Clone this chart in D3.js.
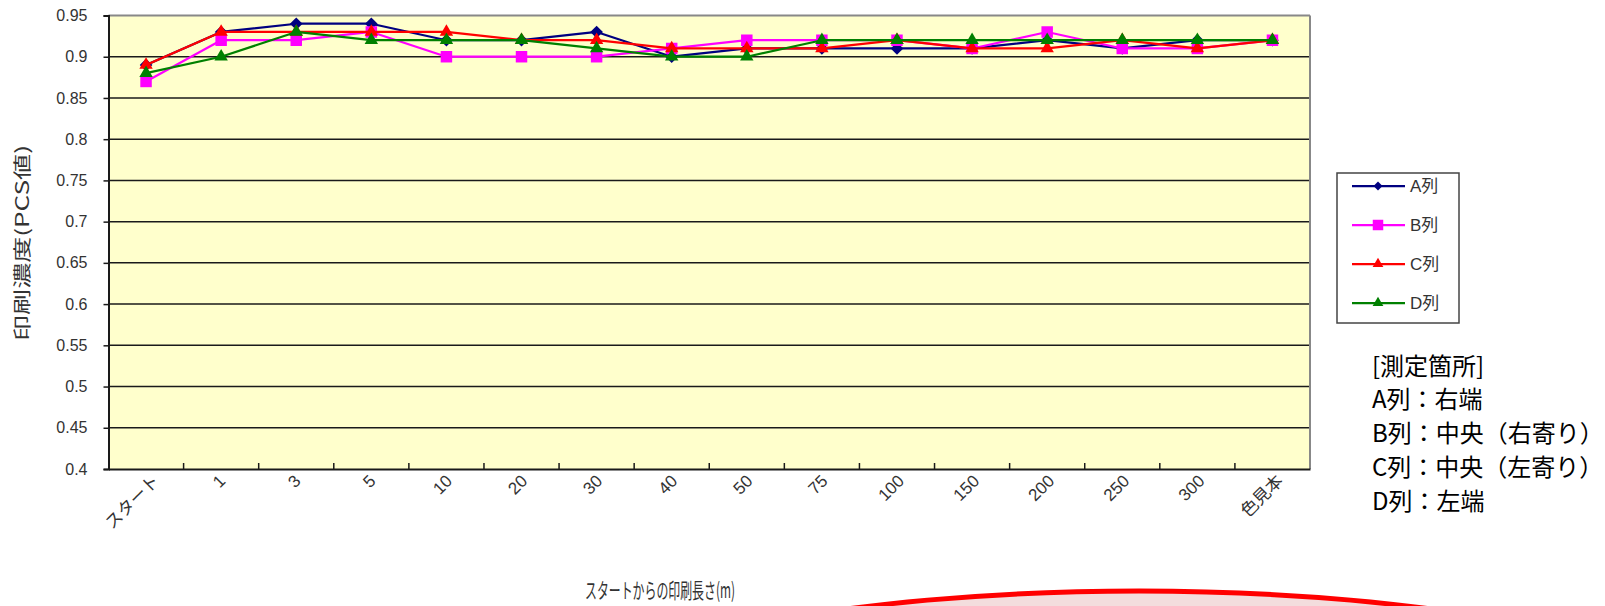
<!DOCTYPE html>
<html>
<head>
<meta charset="utf-8">
<script src="https://cdn.jsdelivr.net/npm/d3@7/dist/d3.min.js"></script>
<style>
  html, body { margin: 0; padding: 0; background: #ffffff; }
  svg { display: block; }
  text { font-family: "Liberation Sans", "Noto Sans CJK JP", sans-serif; }
</style>
</head>
<body>
<script>
// Print length from start (m) along the x axis
const categories = ["スタート", "1", "3", "5", "10", "20", "30", "40", "50", "75", "100", "150", "200", "250", "300", "色見本"];

// Print density (PCS) per measuring column
const seriesNames = ["A列", "B列", "C列", "D列"];
const valuesA = [0.89, 0.93, 0.94, 0.94, 0.92, 0.92, 0.93, 0.90, 0.91, 0.91, 0.91, 0.91, 0.92, 0.91, 0.92, 0.92];
const valuesB = [0.87, 0.92, 0.92, 0.93, 0.90, 0.90, 0.90, 0.91, 0.92, 0.92, 0.92, 0.91, 0.93, 0.91, 0.91, 0.92];
const valuesC = [0.89, 0.93, 0.93, 0.93, 0.93, 0.92, 0.92, 0.91, 0.91, 0.91, 0.92, 0.91, 0.91, 0.92, 0.91, 0.92];
const valuesD = [0.88, 0.90, 0.93, 0.92, 0.92, 0.92, 0.91, 0.90, 0.90, 0.92, 0.92, 0.92, 0.92, 0.92, 0.92, 0.92];

const yTicks = [0.4, 0.45, 0.5, 0.55, 0.6, 0.65, 0.7, 0.75, 0.8, 0.85, 0.9, 0.95];
const yTickLabels = ["0.4", "0.45", "0.5", "0.55", "0.6", "0.65", "0.7", "0.75", "0.8", "0.85", "0.9", "0.95"];

const xTitle = "スタートからの印刷長さ(m)";
const yTitle = "印刷濃度(PCS値)";
const notes = ["[測定箇所]", "A列：右端", "B列：中央（右寄り）", "C列：中央（左寄り）", "D列：左端"];

const W = 1605, H = 606;
const plot = { left: 108.5, right: 1310, top: 15.5, bottom: 469 };

const styles = [
  { color: "#000080", shape: "diamond" },
  { color: "#FF00FF", shape: "square" },
  { color: "#FF0000", shape: "triangle" },
  { color: "#008000", shape: "triangle" }
];
const seriesValues = [valuesA, valuesB, valuesC, valuesD];

const svg = d3.select("body").append("svg").attr("width", W).attr("height", H);

const x = d3.scaleBand().domain(categories).range([plot.left, plot.right]).padding(0);
const y = d3.scaleLinear().domain([0.4, 0.95]).range([plot.bottom, plot.top]);
const cx = c => x(c) + x.bandwidth() / 2;

// plot background
svg.append("rect")
  .attr("x", plot.left).attr("y", plot.top)
  .attr("width", plot.right - plot.left).attr("height", plot.bottom - plot.top)
  .attr("fill", "#FFFFCC");

// horizontal gridlines
svg.append("g")
  .selectAll("line")
  .data(yTicks.filter(t => t > 0.4 && t < 0.95))
  .join("line")
  .attr("x1", plot.left).attr("x2", plot.right)
  .attr("y1", d => y(d)).attr("y2", d => y(d))
  .attr("stroke", "#1a1a1a").attr("stroke-width", 1.5);

// plot frame: grey top/right, dark left/bottom
svg.append("line").attr("x1", plot.left).attr("x2", plot.right)
  .attr("y1", plot.top).attr("y2", plot.top)
  .attr("stroke", "#888888").attr("stroke-width", 2);
svg.append("line").attr("x1", plot.right).attr("x2", plot.right)
  .attr("y1", plot.top).attr("y2", plot.bottom)
  .attr("stroke", "#888888").attr("stroke-width", 2);

// y axis
const yAxis = d3.axisLeft(y)
  .tickValues(yTicks)
  .tickFormat((d, i) => yTickLabels[i])
  .tickSize(5)
  .tickPadding(16);
const gy = svg.append("g").attr("transform", `translate(${plot.left},0)`).call(yAxis);
gy.select(".domain").attr("stroke", "#1a1a1a").attr("stroke-width", 2);
gy.selectAll(".tick line").attr("stroke", "#1a1a1a").attr("stroke-width", 1.5);
gy.selectAll(".tick text")
  .attr("font-size", 16).attr("fill", "#333333")
  .style("font-family", "'Liberation Sans', sans-serif");

// x axis: tilted labels ending just below each category, tick marks at band boundaries
const xAxis = d3.axisBottom(x).tickSize(0).tickPadding(0);
const gx = svg.append("g").attr("transform", `translate(0,${plot.bottom})`).call(xAxis);
gx.select(".domain").attr("stroke", "#1a1a1a").attr("stroke-width", 2);
gx.selectAll(".tick text")
  .attr("font-size", 17).attr("fill", "#333333")
  .attr("text-anchor", "end")
  .attr("y", 0)
  .attr("dy", null)
  .style("font-family", "'Liberation Sans', 'Noto Sans CJK JP', sans-serif")
  .each(function () {
    const len = this.getComputedTextLength();
    const dx = 4 + 0.15 * len;
    d3.select(this).attr("transform", `translate(${dx},13) rotate(-45)`);
  });

gx.append("g")
  .selectAll("line")
  .data(categories.slice(1))
  .join("line")
  .attr("x1", d => x(d)).attr("x2", d => x(d))
  .attr("y1", 0).attr("y2", -6)
  .attr("stroke", "#1a1a1a").attr("stroke-width", 1.5);

// marker shapes
function markerPath(shape, big) {
  if (shape === "diamond") return d3.symbol().type(d3.symbolSquare).size(big ? 80 : 40)();
  if (shape === "square") return d3.symbol().type(d3.symbolSquare).size(big ? 132 : 110)();
  return d3.symbol().type(d3.symbolTriangle).size(big ? 78 : 50)();
}
function markerTransform(shape, px, py) {
  return shape === "diamond"
    ? `translate(${px},${py}) rotate(45)`
    : `translate(${px},${py})`;
}

const line = d3.line().x(d => cx(d.c)).y(d => y(d.v));

seriesValues.forEach((vals, si) => {
  const st = styles[si];
  const pts = vals.map((v, i) => ({ c: categories[i], v }));
  const g = svg.append("g");
  g.append("path")
    .datum(pts)
    .attr("d", line)
    .attr("fill", "none")
    .attr("stroke", st.color)
    .attr("stroke-width", 2.25)
    .attr("stroke-linejoin", "round");
  g.selectAll("path.m")
    .data(pts)
    .join("path")
    .attr("class", "m")
    .attr("d", markerPath(st.shape, true))
    .attr("transform", d => markerTransform(st.shape, cx(d.c), y(d.v)))
    .attr("fill", st.color);
});

// legend
const legend = { x: 1337, y: 173, w: 122, h: 150, row0: 186, rowStep: 39 };
svg.append("rect")
  .attr("x", legend.x).attr("y", legend.y)
  .attr("width", legend.w).attr("height", legend.h)
  .attr("fill", "#ffffff").attr("stroke", "#444444").attr("stroke-width", 1.5);

const lg = svg.append("g")
  .selectAll("g")
  .data(seriesNames)
  .join("g")
  .attr("transform", (d, i) => `translate(0,${legend.row0 + i * legend.rowStep})`);
lg.append("line")
  .attr("x1", 1352).attr("x2", 1405).attr("y1", 0).attr("y2", 0)
  .attr("stroke", (d, i) => styles[i].color).attr("stroke-width", 2.25);
lg.append("path")
  .attr("d", (d, i) => markerPath(styles[i].shape, false))
  .attr("transform", (d, i) => markerTransform(styles[i].shape, 1378, 0))
  .attr("fill", (d, i) => styles[i].color);
lg.append("text")
  .attr("x", 1410).attr("y", 0).attr("dy", "0.36em")
  .attr("font-size", 17).attr("fill", "#333333")
  .text(d => d);

// axis titles
svg.append("text")
  .attr("x", 660).attr("y", 598)
  .attr("text-anchor", "middle")
  .attr("font-size", 21).attr("fill", "#333333")
  .attr("textLength", 150).attr("lengthAdjust", "spacingAndGlyphs")
  .style("font-family", "'Noto Sans CJK JP', sans-serif")
  .text(xTitle);

svg.append("text")
  .attr("transform", "translate(29,243) rotate(-90)")
  .attr("text-anchor", "middle")
  .attr("font-size", 18).attr("fill", "#333333")
  .attr("textLength", 196).attr("lengthAdjust", "spacingAndGlyphs")
  .style("font-family", "'Noto Sans CJK JP', sans-serif")
  .text(yTitle);

// measuring-position notes
svg.append("g")
  .selectAll("text")
  .data(notes)
  .join("text")
  .attr("x", 1372)
  .attr("y", (d, i) => 366 + i * 33.8)
  .attr("dy", "0.36em")
  .attr("font-size", 24).attr("fill", "#000000")
  .style("font-family", "'Noto Sans CJK JP', sans-serif")
  .text(d => d);

// red outlined callout at the bottom edge
svg.append("ellipse")
  .attr("cx", 1139).attr("cy", 721)
  .attr("rx", 575).attr("ry", 130)
  .attr("fill", "#F3DDDD")
  .attr("stroke", "#FF0000").attr("stroke-width", 5);
</script>
</body>
</html>
